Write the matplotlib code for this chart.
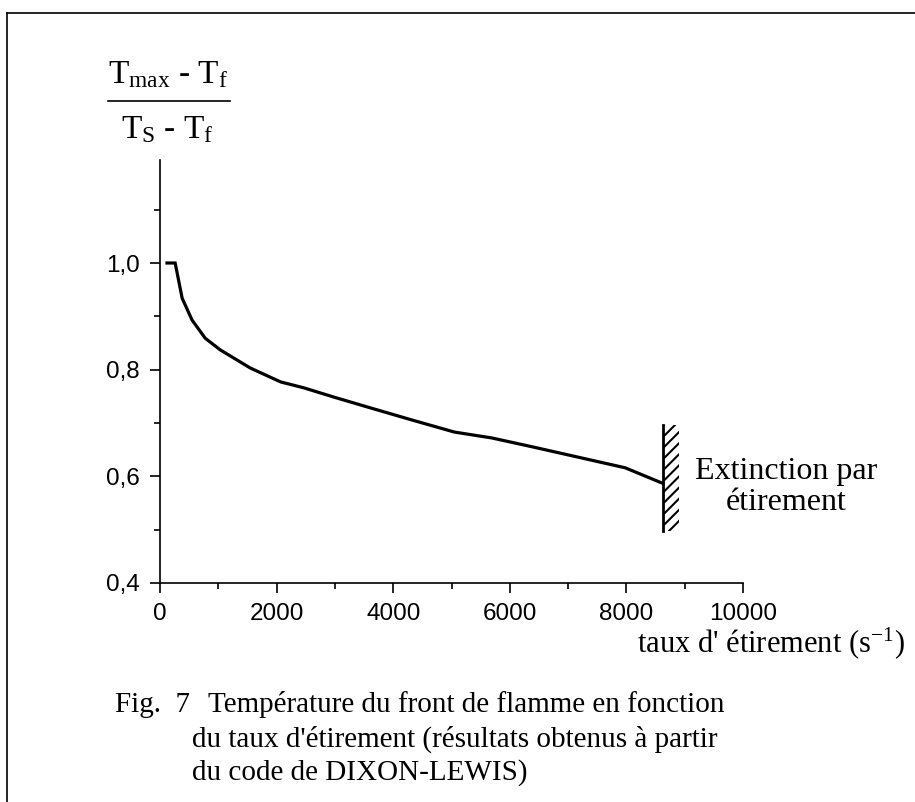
import numpy as np
import matplotlib
matplotlib.use("Agg")
import matplotlib.pyplot as plt
from matplotlib.patches import Rectangle

# curve (taux d'etirement in s^-1, reduced temperature)
rate = [120, 260, 380, 550, 775, 1035, 1550, 2070, 2465, 3000,
        3620, 4310, 5050, 5690, 6400, 7980, 8620]
ratio = [1.0, 1.0, 0.934, 0.893, 0.859, 0.837, 0.803, 0.777, 0.766, 0.748,
         0.728, 0.706, 0.683, 0.672, 0.655, 0.616, 0.587]

# extinction wall
wall_x = [8620, 8900]
wall_y = [0.497, 0.697]

xticks = [0, 2000, 4000, 6000, 8000, 10000]
yticks = [0.4, 0.6, 0.8, 1.0]
ytick_labels = ["0,4", "0,6", "0,8", "1,0"]

plt.rcParams['mathtext.fontset'] = 'custom'
plt.rcParams['mathtext.rm'] = 'Liberation Serif'
plt.rcParams['mathtext.it'] = 'Liberation Serif:italic'
plt.rcParams['hatch.linewidth'] = 1.5

W, H = 915, 802
fig = plt.figure(figsize=(W / 100, H / 100), dpi=100)

# axes placed in pixel terms
left, right, bottom, top = 160, 743, 583, 160
ax = fig.add_axes([left / W, 1 - bottom / H, (right - left) / W, (bottom - top) / H])

ax.plot(rate, ratio, color='black', lw=2.3, solid_joinstyle='miter')

ax.add_patch(Rectangle((wall_x[0], wall_y[0]), wall_x[1] - wall_x[0], wall_y[1] - wall_y[0],
                       facecolor='none', edgecolor='black', hatch='///', lw=0, clip_on=False))
ax.plot([wall_x[0], wall_x[0]], wall_y, color='black', lw=2, clip_on=False)

ax.set_xlim(0, 10000)
ax.set_ylim(0.4, 1.0 + (263 - 160) / 533.3)

for s in ['top', 'right']:
    ax.spines[s].set_visible(False)
for s in ['left', 'bottom']:
    ax.spines[s].set_linewidth(1.2)

ax.set_xticks(xticks)
ax.set_xticklabels([str(t) for t in xticks], fontsize=17.5, fontfamily='Liberation Sans')
ax.set_xticks(np.arange(1000, 10000, 2000), minor=True)
ax.set_yticks(yticks)
ax.set_yticklabels(ytick_labels, fontsize=17.5, fontfamily='Liberation Sans')
ax.set_yticks([0.5, 0.7, 0.9, 1.1], minor=True)
ax.tick_params(which='major', length=7.5, width=1.2, direction='out', pad=7)
ax.tick_params(which='minor', length=4, width=1.2, direction='out')

# y label as a fraction
fig.text(168 / W, 1 - 75 / H, r'$\mathrm{T_{max}}$ - $\mathrm{T_f}$', ha='center', va='center',
         fontsize=24, fontfamily='Liberation Serif')
fig.add_artist(plt.Line2D([108 / W, 230 / W], [1 - 101 / H, 1 - 101 / H], color='black', lw=1.2))
fig.text(167 / W, 1 - 130 / H, r'$\mathrm{T_S}$ - $\mathrm{T_f}$', ha='center', va='center',
         fontsize=24, fontfamily='Liberation Serif')

# x label
fig.text(771 / W, 1 - 643 / H, r"taux d' étirement (s$^{\mathrm{-1}}$)", ha='center', va='center',
         fontsize=22, fontfamily='Liberation Serif')

fig.text(786 / W, 1 - 487 / H, "Extinction par\nétirement", ha='center', va='center',
         fontsize=23, fontfamily='Liberation Serif', linespacing=1.1)

# caption
cap_font = dict(fontsize=21, fontfamily='Liberation Serif', va='center', ha='left')
fig.text(115 / W, 1 - 705 / H, "Fig.  7", **cap_font)
fig.text(208 / W, 1 - 705 / H, "Température du front de flamme en fonction", **cap_font)
fig.text(192 / W, 1 - 739 / H, "du taux d'étirement (résultats obtenus à partir", **cap_font)
fig.text(192 / W, 1 - 773 / H, "du code de DIXON-LEWIS)", **cap_font)

# scanned page frame
fig.add_artist(plt.Line2D([7 / W, 7 / W], [0, 1 - 13 / H], color='black', lw=1.2))
fig.add_artist(plt.Line2D([7 / W, 1], [1 - 13 / H, 1 - 13 / H], color='black', lw=1.2))

fig.savefig("out.png", dpi=100)
